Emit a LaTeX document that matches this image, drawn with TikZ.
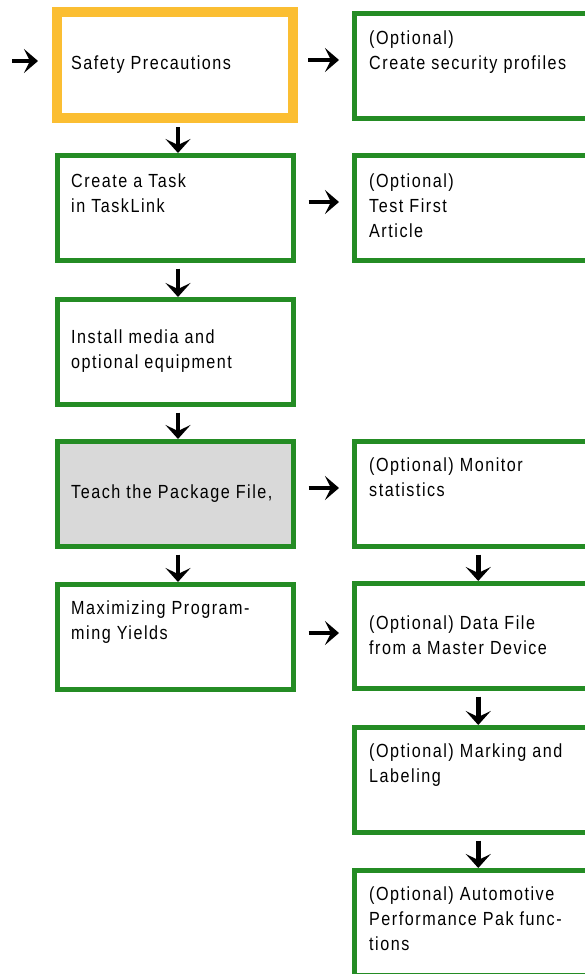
\documentclass[tikz,border=0pt]{standalone}
\usepackage{fontspec}
\newfontfamily\boxfont[FakeStretch=0.85,LetterSpace=8]{Liberation Sans}
\usetikzlibrary{arrows.meta}
\definecolor{boxgreen}{RGB}{36,140,36}
\definecolor{boxorange}{RGB}{251,190,50}
\definecolor{boxgray}{RGB}{217,217,217}
\begin{document}
\begin{tikzpicture}[x=1pt,y=-1pt,
  gbox/.style={draw=boxgreen,line width=4.5pt,outer sep=0pt,inner sep=0pt,rectangle,minimum height=105pt},
  lbox/.style={gbox,minimum width=236pt},
  rbox/.style={gbox,minimum width=247.5pt},
  obox/.style={draw=boxorange,line width=9.5pt,outer sep=0pt,inner sep=0pt,rectangle,minimum width=236pt,minimum height=106pt},
  txt/.style={anchor=base west,inner sep=0pt,align=left,font=\boxfont\fontsize{19}{25}\selectfont},
  harr/.style={line width=4.5pt,-{Stealth[length=14pt 0,width=24pt 0,inset=6pt 0]},shorten <=15pt,shorten >=15.5pt},
  varr/.style={line width=4.5pt,-{Stealth[length=14pt 0,width=25pt 0,inset=6pt 0]},shorten <=8pt,shorten >=2.5pt}
]
\useasboundingbox (0,0) rectangle (585,974);
% left column
\node[obox] (b1) at (175,65) {};
\node[lbox] (b2) at (175.5,208) {};
\node[lbox] (b3) at (175.5,352) {};
\node[lbox,fill=boxgray] (b4) at (175.5,494) {};
\node[lbox] (b5) at (175.5,637) {};
% right column
\node[rbox] (r1) at (478.25,66) {};
\node[rbox] (r2) at (478.25,208) {};
\node[rbox] (r4) at (478.25,494) {};
\node[rbox] (r5) at (478.25,636) {};
\node[rbox] (r6) at (478.25,780) {};
\node[rbox] (r7) at (478.25,923) {};
% texts (base = baseline of last line)
\node[txt] (t1) at (71,70) {Safety Precautions};
\node[txt] (t2) at (71,212) {Create a Task\\in TaskLink};
\node[txt] (t3) at (71,368) {Install media and\\optional equipment};
\node[txt] (t4) at (71,498) {Teach the Package File,};
\node[txt] (t5) at (71,639) {Maximizing Program-\\ming Yields};
\node[txt] (u1) at (369,70) {(Optional)\\Create security profiles};
\node[txt] (u2) at (369,237) {(Optional)\\Test First\\Article};
\node[txt] (u4) at (369,496) {(Optional) Monitor\\statistics};
\node[txt] (u5) at (369,654) {(Optional) Data File\\from a Master Device};
\node[txt] (u6) at (369,782) {(Optional) Marking and\\Labeling};
\node[txt] (u7) at (369,950) {(Optional) Automotive\\Performance Pak func-\\tions};
% arrows
\coordinate (start) at (12,61);
\draw[harr,shorten <=0pt,shorten >=19pt] (start) -- (start -| b1.west);
\draw[harr] ([yshift=5pt]b1.east) -- ([yshift=5pt]b1.east -| r1.west);
\draw[harr] ([yshift=6pt]b2.east) -- ([yshift=6pt]b2.east -| r2.west);
\draw[harr] ([yshift=6pt]b4.east) -- ([yshift=6pt]b4.east -| r4.west);
\draw[harr] ([yshift=4pt]b5.east) -- ([yshift=4pt]b5.east -| r5.west);
\draw[varr,shorten <=9pt] ([xshift=3pt]b1.south) -- ([xshift=2.5pt]b2.north);
\draw[varr] ([xshift=2.5pt]b2.south) -- ([xshift=2.5pt]b3.north);
\draw[varr] ([xshift=2.5pt]b3.south) -- ([xshift=2.5pt]b4.north);
\draw[varr] ([xshift=2.5pt]b4.south) -- ([xshift=2.5pt]b5.north);
\draw[varr] (r4.south) -- (r5.north);
\draw[varr] (r5.south) -- (r6.north);
\draw[varr] (r6.south) -- (r7.north);
\end{tikzpicture}
\end{document}
